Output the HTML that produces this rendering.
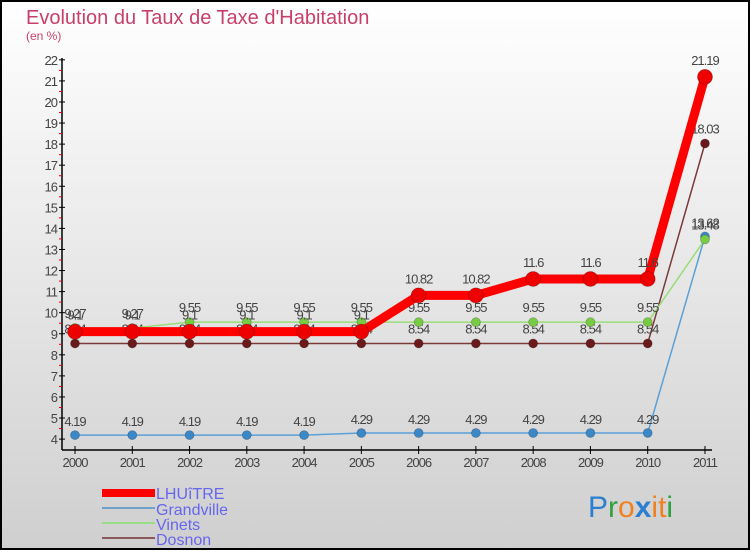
<!DOCTYPE html>
<html><head><meta charset="utf-8"><style>
html,body{margin:0;padding:0}
body{width:750px;height:550px;overflow:hidden;font-family:"Liberation Sans",sans-serif}
</style></head><body>
<svg id="chart" width="750" height="550" xmlns="http://www.w3.org/2000/svg">
<defs>
<linearGradient id="bg" x1="0" y1="0" x2="0" y2="1"><stop offset="0" stop-color="#ffffff"/><stop offset="1" stop-color="#cfcfcf"/></linearGradient>
</defs>
<rect x="1" y="1" width="748" height="548" fill="url(#bg)" stroke="#000" stroke-width="2"/>
<text x="26" y="24" font-size="20" fill="#c8406a">Evolution du Taux de Taxe d'Habitation</text>
<text x="26" y="40" font-size="12" fill="#c8406a">(en %)</text>
<g id="axes"></g>
<g id="series"></g>
<g>
<rect x="102" y="489" width="53" height="8" fill="#f00"/>
<text x="156" y="499" font-size="16" fill="#6666ee">LHUîTRE</text>
<line x1="102" y1="508" x2="155" y2="508" stroke="#6fa0c8" stroke-width="2"/>
<text x="156" y="515" font-size="16" fill="#6666ee">Grandville</text>
<line x1="102" y1="523" x2="155" y2="523" stroke="#99dd88" stroke-width="2"/>
<text x="156" y="530" font-size="16" fill="#6666ee">Vinets</text>
<line x1="102" y1="538" x2="155" y2="538" stroke="#8a5a5a" stroke-width="2"/>
<text x="156" y="545" font-size="16" fill="#6666ee">Dosnon</text>
</g>
<g font-size="30">
<text x="588" y="517"><tspan fill="#2a7fd0">P</tspan><tspan fill="#30a040">r</tspan><tspan fill="#f08020">o</tspan><tspan fill="#2a7fd0" font-weight="bold">x</tspan><tspan fill="#f08020">i</tspan><tspan fill="#f08020">t</tspan><tspan fill="#30a040">i</tspan></text>
</g>
</svg>
<script>
const years = [2000,2001,2002,2003,2004,2005,2006,2007,2008,2009,2010,2011];
const lhuitre = [9.1,9.1,9.1,9.1,9.1,9.1,10.82,10.82,11.6,11.6,11.6,21.19];
const grandville = [4.19,4.19,4.19,4.19,4.19,4.29,4.29,4.29,4.29,4.29,4.29,13.62];
const vinets = [9.27,9.27,9.55,9.55,9.55,9.55,9.55,9.55,9.55,9.55,9.55,13.48];
const dosnon = [8.54,8.54,8.54,8.54,8.54,8.54,8.54,8.54,8.54,8.54,8.54,18.03];
const yTicks = [4,5,6,7,8,9,10,11,12,13,14,15,16,17,18,19,20,21,22];

const NS = "http://www.w3.org/2000/svg";
const x = i => 75 + i * 57.27;
const y = v => 439.1 - (v - 4) * 21.07;
function mk(tag, attrs, parent){const e=document.createElementNS(NS,tag);for(const k in attrs)e.setAttribute(k,attrs[k]);parent.appendChild(e);return e;}
const axes = document.getElementById('axes');
const ser = document.getElementById('series');

const ya = mk('line',{x1:62,y1:58,x2:62,y2:450,stroke:'#000','stroke-width':1.5},axes);


const xa = mk('line',{x1:62,y1:450,x2:712,y2:450,stroke:'#000','stroke-width':1.5},axes);



yTicks.forEach((t,i)=>{
  const tk = mk('line',{x1:59,y1:y(t),x2:65,y2:y(t),stroke:'#000'},axes);
  
  
  const tl = mk('text',{x:57,y:y(t)+5,'font-size':13,'text-anchor':'end',fill:'#444','letter-spacing':'-1'},axes);
  
  
  tl.textContent = t;
  if(i<yTicks.length-1){
    const m = mk('line',{x1:59,y1:y(t+0.5),x2:62,y2:y(t+0.5),stroke:'#e00'},axes);
    
    
  }
});
years.forEach((yr,i)=>{
  const tk = mk('line',{x1:x(i),y1:446,x2:x(i),y2:454,stroke:'#000'},axes);
  
  
  const tl = mk('text',{x:x(i),y:467,'font-size':13,'text-anchor':'middle',fill:'#444','letter-spacing':'-1'},axes);
  
  
  tl.textContent = yr;
});

function series(name, vals, color, dot, w, r, off){
  const g = mk('g',{},ser);
  
  
  const pl = mk('polyline',{points:vals.map((v,i)=>x(i)+','+y(v)).join(' '),fill:'none',stroke:color,'stroke-width':w,'stroke-linejoin':'round'},g);
  
  
  vals.forEach((v,i)=>{
    const c = mk('circle',{cx:x(i),cy:y(v),r:r,fill:dot,stroke:'rgba(0,0,0,0.25)','stroke-width':0.8},g);
    
    
    const t = mk('text',{x:x(i),y:y(v)-off,'font-size':13,'text-anchor':'middle',fill:'#444','letter-spacing':'-1'},g);
    
    
    t.textContent = v;
  });
}
series('dosnon', dosnon, '#7a3a3a', '#6a1a1a', 1.5, 4.5, 10);
series('grandville', grandville, '#5aa0d8', '#3a88c8', 1.5, 4.5, 9);
series('vinets', vinets, '#99dd77', '#77cc44', 1.5, 4.5, 10);
series('lhuitre', lhuitre, '#ff0000', '#ee0000', 9, 7.5, 12);
</script>
</body></html>
